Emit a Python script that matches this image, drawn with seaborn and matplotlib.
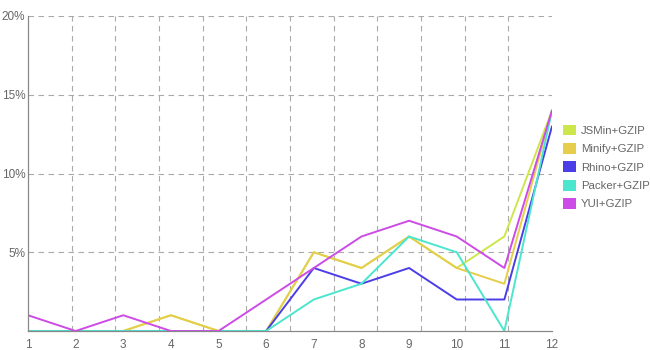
import numpy as np
import pandas as pd
import matplotlib
matplotlib.use("Agg")
import matplotlib.pyplot as plt
import seaborn as sns
from matplotlib.patches import Patch

x_vals = [1, 2, 3, 4, 5, 6, 7, 8, 9, 10, 11, 12]
jsmin = [0, 0, 0, 1, 0, 0, 5, 4, 6, 4, 6, 14]
minify = [0, 0, 0, 1, 0, 0, 5, 4, 6, 4, 3, 14]
rhino = [0, 0, 0, 0, 0, 0, 4, 3, 4, 2, 2, 13]
packer = [0, 0, 0, 0, 0, 0, 2, 3, 6, 5, 0, 14]
yui = [1, 0, 1, 0, 0, 2, 4, 6, 7, 6, 4, 14]
series_names = ["JSMin+GZIP", "Minify+GZIP", "Rhino+GZIP", "Packer+GZIP", "YUI+GZIP"]
y_ticks = [5, 10, 15, 20]
y_labels = ["5%", "10%", "15%", "20%"]

colors = ["#cde64b", "#e6cd4b", "#4b3ee6", "#4be6cd", "#cd4be6"]

rows = []
for name, vals in zip(series_names, [jsmin, minify, rhino, packer, yui]):
    for xv, yv in zip(x_vals, vals):
        rows.append({"x": xv, "y": yv, "series": name})
df = pd.DataFrame(rows)

sns.set_style("white")
plt.rcParams['font.family'] = ['Liberation Sans', 'DejaVu Sans']

fig = plt.figure(figsize=(6.5, 3.5), dpi=100)
ax = fig.add_axes([28/650, 1 - 331/350, (552-28)/650, (331-16)/350])

sns.lineplot(data=df, x="x", y="y", hue="series", palette=colors,
             hue_order=series_names, linewidth=1.4, ax=ax, legend=False)

ax.set_xlim(1, 12)
ax.set_ylim(0, 20)
ax.set_xticks(x_vals)
ax.set_xticklabels([str(v) for v in x_vals])
ax.set_yticks(y_ticks)
ax.set_yticklabels(y_labels)
# vertical grid divides the range into 12 equal bands
grid_x = [1 + k * 11 / 12 for k in range(1, 13)]
ax.set_xticks(grid_x, minor=True)
ax.grid(False)
ax.grid(True, which="minor", axis="x", color="#aaaaaa", linestyle=(0, (5, 4)), linewidth=0.8)
ax.grid(True, which="major", axis="y", color="#aaaaaa", linestyle=(0, (5, 4)), linewidth=0.8)
ax.tick_params(axis="both", which="both", length=0, colors="#666666", labelsize=8.5)
ax.tick_params(axis="x", pad=6)
ax.tick_params(axis="y", pad=2)
ax.set_xlabel("")
ax.set_ylabel("")
for s in ["top", "right"]:
    ax.spines[s].set_visible(False)
for s in ["left", "bottom"]:
    ax.spines[s].set_color("#888888")
    ax.spines[s].set_linewidth(0.9)
ax.set_axisbelow(True)

handles = [Patch(facecolor=c, edgecolor="none") for c in colors]
leg = fig.legend(handles, series_names, loc="center left", bbox_to_anchor=(563/650, 1 - 167/350),
                 frameon=False, fontsize=8.2, handlelength=1.1, handleheight=1.1,
                 handletextpad=0.5, labelspacing=0.62, borderaxespad=0, borderpad=0)
for t in leg.get_texts():
    t.set_color("#666666")

fig.savefig("out.png", dpi=100)
